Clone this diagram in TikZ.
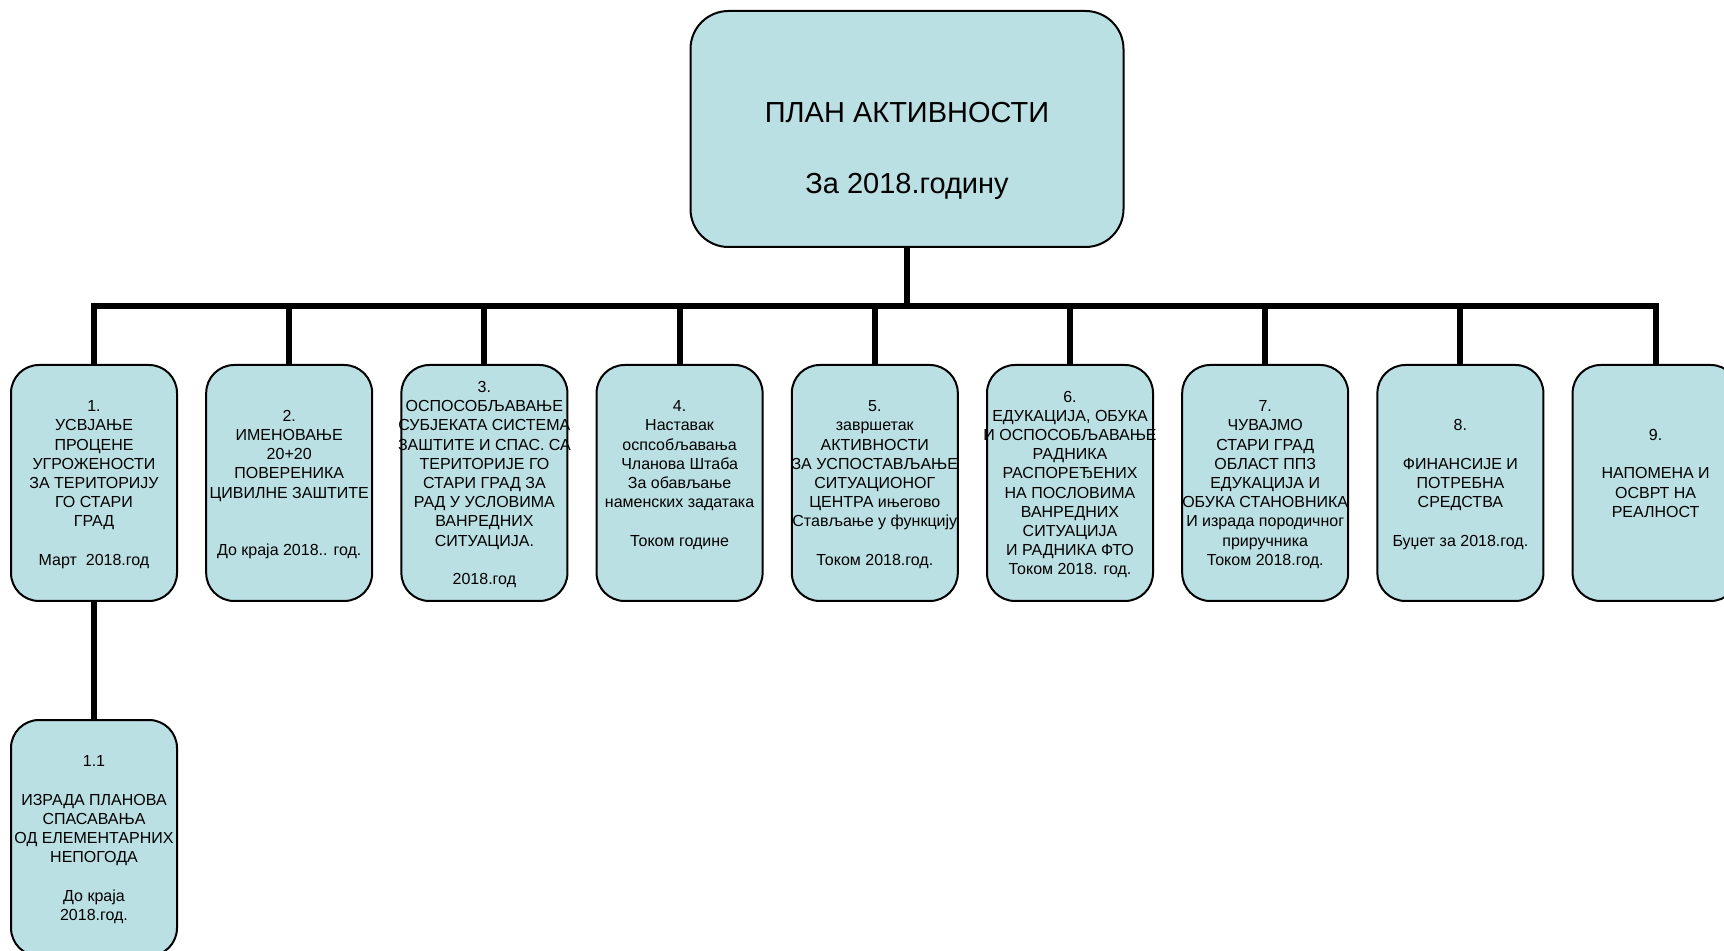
\documentclass[tikz,border=0pt]{standalone}
\usepackage{fontspec}
\setmainfont{Liberation Sans}
\usetikzlibrary{positioning}
\definecolor{planfill}{RGB}{187,224,228}
\tikzset{
  actbox/.style={draw,line width=1pt,fill=planfill,rounded corners=14pt,inner sep=0pt,outer sep=0pt,
    minimum width=83pt,minimum height=118pt,align=center,text depth=-1.5pt,font=\fontsize{8}{9.6}\selectfont},
  planbox/.style={actbox,rounded corners=19pt,minimum width=216.5pt,text depth=0.8pt,font=\fontsize{14.5}{17.6}\selectfont},
  conn/.style={line width=3pt}
}
% lines wider than the box stay centred
\newcommand\ovl[1]{\makebox[0pt]{#1}}

\begin{document}
\begin{tikzpicture}[x=0.5pt,y=0.5pt]
        \useasboundingbox (0,0) rectangle (1724,-951);
        \node[planbox] (plan) at (907,-129) {\strut\\ ПЛАН АКТИВНОСТИ\\ \strut\\ За 2018.годину};
        \node[actbox] (a1) at (94,-483) {1.\\ УСВЈАЊЕ\\ ПРОЦЕНЕ\\ УГРОЖЕНОСТИ\\ ЗА ТЕРИТОРИЈУ\\ ГО СТАРИ\\ ГРАД\\ \strut\\ Март\ \ 2018.год};
        \node[actbox,right=14.6pt of a1] (a2) {2.\\ ИМЕНОВАЊЕ\\ 20+20\\ ПОВЕРЕНИКА\\ \ovl{ЦИВИЛНЕ ЗАШТИТЕ}\\ \strut\\ \strut\\ До краја 2018.. год.};
        \node[actbox,right=14.6pt of a2] (a3) {3.\\ \ovl{ОСПОСОБЉАВАЊЕ}\\ \ovl{СУБЈЕКАТА СИСТЕМА}\\ \ovl{ЗАШТИТЕ И СПАС. СА}\\ ТЕРИТОРИЈЕ ГО\\ СТАРИ ГРАД ЗА\\ РАД У УСЛОВИМА\\ ВАНРЕДНИХ\\ СИТУАЦИЈА.\\ \strut\\ 2018.год};
        \node[actbox,right=14.6pt of a3] (a4) {4.\\ Наставак\\ оспсобљавања\\ Чланова Штаба\\ За обављање\\ наменских задатака\\ \strut\\ Током године\\ \strut};
        \node[actbox,right=14.6pt of a4] (a5) {5.\\ завршетак\\ АКТИВНОСТИ\\ \ovl{ЗА УСПОСТАВЉАЊЕ}\\ СИТУАЦИОНОГ\\ ЦЕНТРА ињегово\\ \ovl{Стављање у функцију}\\ \strut\\ Током 2018.год.};
        \node[actbox,right=14.6pt of a5] (a6) {6.\\ \ovl{ЕДУКАЦИЈА, ОБУКА}\\ \ovl{И ОСПОСОБЉАВАЊЕ}\\ РАДНИКА\\ РАСПОРЕЂЕНИХ\\ НА ПОСЛОВИМА\\ ВАНРЕДНИХ\\ СИТУАЦИЈА\\ И РАДНИКА ФТО\\ Током 2018. год.};
        \node[actbox,right=14.6pt of a6] (a7) {7.\\ ЧУВАЈМО\\ СТАРИ ГРАД\\ ОБЛАСТ ППЗ\\ ЕДУКАЦИЈА И\\ \ovl{ОБУКА СТАНОВНИКА}\\ \ovl{И израда породичног}\\ приручника\\ Током 2018.год.};
        \node[actbox,right=14.6pt of a7] (a8) {8.\\ \strut\\ ФИНАНСИЈЕ И\\ ПОТРЕБНА\\ СРЕДСТВА\\ \strut\\ Буџет за 2018.год.};
        \node[actbox,right=14.6pt of a8] (a9) {9.\\ \strut\\ НАПОМЕНА И\\ ОСВРТ НА\\ РЕАЛНОСТ\\ \strut};
        \node[actbox,below=59.5pt of a1] (a11) {1.1\\ \strut\\ ИЗРАДА ПЛАНОВА\\ СПАСАВАЊА\\ \ovl{ОД ЕЛЕМЕНТАРНИХ}\\ НЕПОГОДА\\ \strut\\ До краја\\ 2018.год.};
        \coordinate (bus) at (907,-306);
        \draw[conn] (plan.south) -- (bus) -| (a1.north);
        \draw[conn] (plan.south) -- (bus) -| (a2.north);
        \draw[conn] (plan.south) -- (bus) -| (a3.north);
        \draw[conn] (plan.south) -- (bus) -| (a4.north);
        \draw[conn] (plan.south) -- (bus) -| (a5.north);
        \draw[conn] (plan.south) -- (bus) -| (a6.north);
        \draw[conn] (plan.south) -- (bus) -| (a7.north);
        \draw[conn] (plan.south) -- (bus) -| (a8.north);
        \draw[conn] (plan.south) -- (bus) -| (a9.north);
        \draw[conn] (a1.south) -- (a11.north);
\end{tikzpicture}
\end{document}
